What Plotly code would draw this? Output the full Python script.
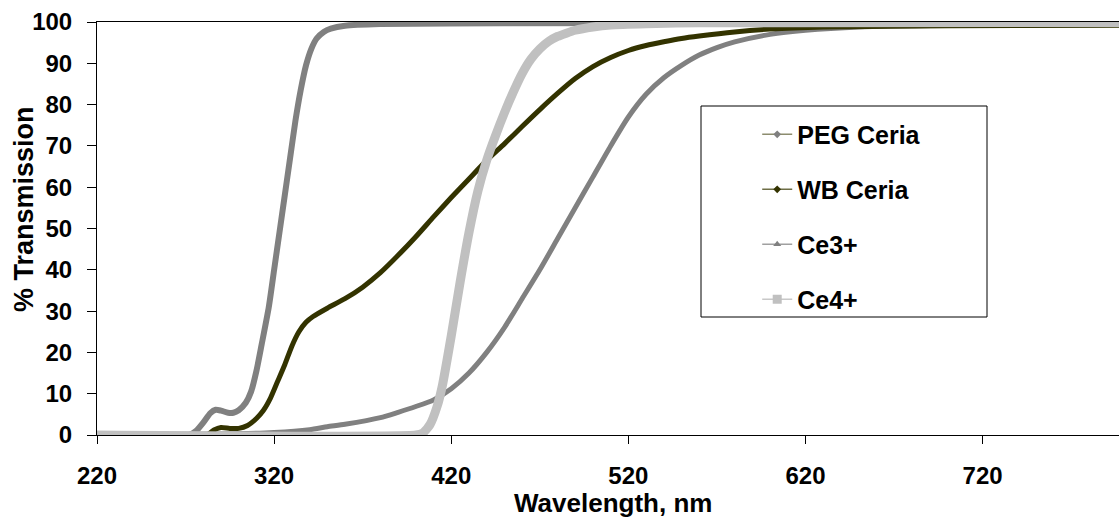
import plotly.graph_objects as go

# ---- data ----
peg_x = [220, 300, 320, 340, 350, 360, 380, 390, 400, 410, 420, 430, 440, 450, 460, 470, 480, 490, 500, 510, 520, 530, 540, 550, 560, 570, 580, 600, 620, 650, 700, 797]
peg_y = [0, 0.3, 0.6, 1.3, 2.0, 2.6, 4.2, 5.5, 6.9, 8.5, 11.2, 15.0, 20.0, 26.0, 33.0, 40.0, 47.5, 55.0, 62.5, 70.0, 77.0, 82.5, 86.5, 89.5, 92.0, 93.8, 95.2, 97.0, 98.0, 98.8, 99.2, 99.4]

wb_x = [220, 282, 286, 290, 295, 300, 305, 310, 314, 318, 322, 326, 330, 334, 338, 342, 350, 360, 370, 380, 390, 400, 410, 420, 430, 440, 450, 460, 470, 480, 490, 500, 510, 520, 530, 540, 550, 560, 580, 600, 630, 700, 797]
wb_y = [0, 0, 1.2, 1.8, 1.6, 1.6, 2.3, 4.0, 6.0, 9.0, 13.0, 17.0, 21.5, 25.0, 27.3, 28.7, 30.7, 33.0, 35.8, 39.3, 43.5, 48.0, 52.8, 57.5, 62.0, 66.5, 70.5, 74.7, 78.8, 82.7, 86.3, 89.2, 91.4, 93.1, 94.3, 95.2, 96.0, 96.6, 97.6, 98.3, 98.8, 99.1, 99.2]

ce3_x = [220, 272, 276, 280, 284, 287, 290, 294, 297, 300, 304, 307, 310, 313, 317, 320, 323, 326, 329, 332, 335, 338, 341, 344, 348, 352, 360, 380, 450, 797]
ce3_y = [0, 0, 1.0, 3.0, 5.3, 6.1, 5.9, 5.4, 5.4, 6.0, 7.8, 10.5, 15.5, 22.0, 31.0, 40.0, 49.0, 58.0, 67.0, 76.0, 83.5, 89.5, 93.5, 96.0, 97.6, 98.4, 99.1, 99.5, 99.7, 99.8]

ce4_x = [220, 400, 404, 408, 412, 415, 420, 425, 430, 435, 440, 445, 450, 455, 460, 465, 470, 475, 480, 485, 490, 500, 510, 530, 560, 797]
ce4_y = [0, 0, 0.5, 2.5, 6.9, 12.0, 24.0, 37.0, 49.0, 59.0, 66.5, 72.5, 78.0, 83.0, 87.5, 91.0, 93.5, 95.3, 96.5, 97.3, 98.0, 98.8, 99.3, 99.6, 99.8, 99.9]

names = ["PEG Ceria", "WB Ceria", "Ce3+", "Ce4+"]
x_ticks = [220, 320, 420, 520, 620, 720]
y_ticks = [0, 10, 20, 30, 40, 50, 60, 70, 80, 90, 100]

FONT = "Arial, Liberation Sans, sans-serif"

fig = go.Figure()

series = [
    (peg_x, peg_y, "#808080", 5),
    (wb_x, wb_y, "#333300", 5),
    (ce3_x, ce3_y, "#808080", 6),
    (ce4_x, ce4_y, "#C0C0C0", 9),
]
for (xs, ys, col, w), nm in zip(series, names):
    fig.add_trace(go.Scatter(x=xs, y=ys, mode="lines", name=nm, showlegend=False,
                             line=dict(color=col, width=w, shape="spline", smoothing=0.6)))

# legend entries (line + marker style as in the reference legend)
leg_styles = [
    ("#8C8C6E", "#808080", "diamond", 6),
    ("#6E6E46", "#333300", "diamond", 6),
    ("#A0A0A0", "#808080", "triangle-up", 7),
    ("#C8C8C8", "#C0C0C0", "square", 9),
]
for i, (nm, (lc, mc, sym, ms)) in enumerate(zip(names, leg_styles)):
    fig.add_trace(go.Scatter(x=[None], y=[None], mode="lines+markers", name=nm,
                             legendgroup=f"g{i}",
                             line=dict(color=lc, width=1.5),
                             marker=dict(color=mc, symbol=sym, size=ms)))

fig.update_layout(
    width=1119, height=519,
    margin=dict(l=97, r=0, t=22, b=84),
    paper_bgcolor="white", plot_bgcolor="white",
    font=dict(family=FONT, size=24, color="black", weight="bold"),
    showlegend=True,
    legend=dict(x=0.646, y=0.783, xanchor="left", yanchor="top",
                bgcolor="rgba(0,0,0,0)", borderwidth=0,
                tracegroupgap=19.5, itemwidth=30,
                font=dict(family=FONT, size=25, color="black", weight="bold")),
    shapes=[dict(type="rect", xref="paper", yref="paper",
                 x0=(701 - 97) / 1022, x1=(987 - 97) / 1022,
                 y0=(435 - 317) / 413, y1=(435 - 106) / 413,
                 line=dict(color="black", width=1), fillcolor="rgba(0,0,0,0)")],
    annotations=[
        dict(text="% Transmission", xref="paper", yref="paper",
             x=-(97 - 24) / 1022, y=(435 - 209) / 413, xanchor="center", yanchor="middle",
             textangle=-90, showarrow=False,
             font=dict(family=FONT, size=27, color="black", weight="bold")),
        dict(text="Wavelength, nm", xref="paper", yref="paper",
             x=(613 - 97) / 1022, y=-(503 - 435) / 413, xanchor="center", yanchor="middle",
             showarrow=False,
             font=dict(family=FONT, size=26, color="black", weight="bold")),
    ],
)

fig.update_xaxes(range=[220, 797], tickmode="array", tickvals=x_ticks,
                 ticks="outside", ticklen=8, tickwidth=1, tickcolor="black",
                 showline=True, linecolor="black", linewidth=1, mirror=True,
                 showgrid=False, zeroline=False, ticklabelstandoff=11,
                 tickfont=dict(family=FONT, size=24, color="black", weight="bold"))
fig.update_yaxes(range=[0, 100], tickmode="array", tickvals=y_ticks,
                 ticks="outside", ticklen=9, tickwidth=1, tickcolor="black",
                 showline=True, linecolor="black", linewidth=1,
                 showgrid=False, zeroline=False, ticklabelstandoff=10,
                 tickfont=dict(family=FONT, size=24, color="black", weight="bold"))

fig.write_html("out.html")
